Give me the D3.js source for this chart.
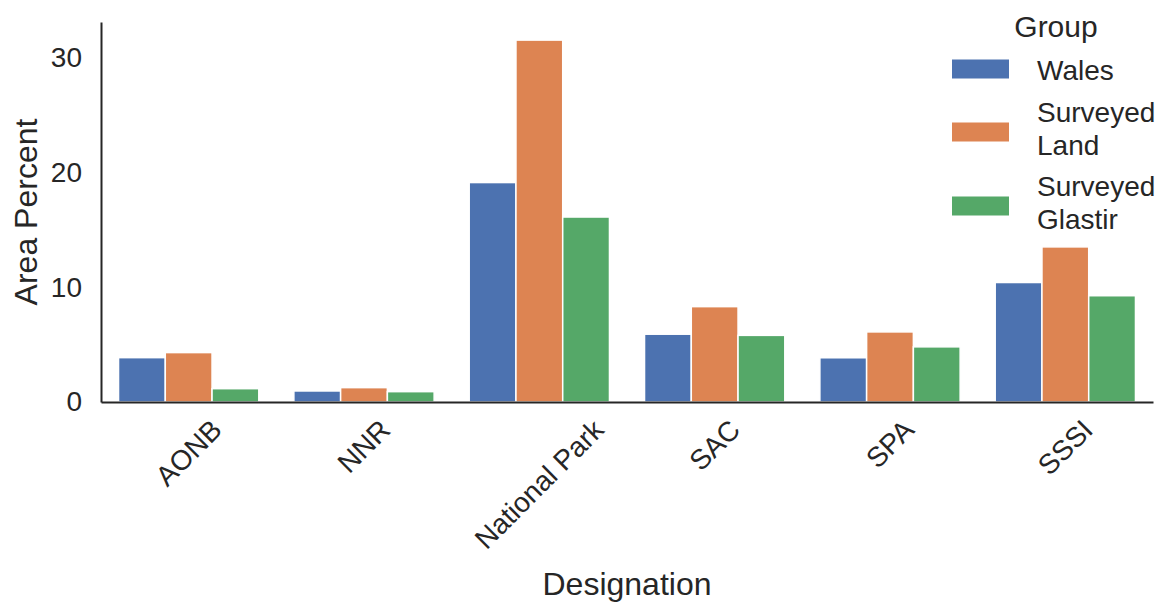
<!DOCTYPE html>
<html>
<head>
<meta charset="utf-8">
<script src="https://cdn.jsdelivr.net/npm/d3@7"></script>
<style>
  html, body { margin: 0; padding: 0; background: #fff; }
  text { font-family: Arial, "Liberation Sans", sans-serif; fill: #262626; }
</style>
</head>
<body>
<svg id="chart" width="1165" height="602"></svg>
<script>
const categories = ["AONB", "NNR", "National Park", "SAC", "SPA", "SSSI"];
const groups = ["Wales", "Surveyed Land", "Surveyed Glastir"];
const groupLabelLines = [["Wales"], ["Surveyed", "Land"], ["Surveyed", "Glastir"]];
const walesValues = [3.86, 0.96, 19.1, 5.9, 3.85, 10.4];
const surveyedLandValues = [4.3, 1.25, 31.5, 8.3, 6.1, 13.5];
const surveyedGlastirValues = [1.16, 0.9, 16.1, 5.8, 4.8, 9.25];
const yTicks = [0, 10, 20, 30];
const colors = ["#4C72B0", "#DD8452", "#55A868"];

const seriesValues = [walesValues, surveyedLandValues, surveyedGlastirValues];

const svg = d3.select("#chart");
const mLeft = 101, mRight = 1153, mTop = 22, mBottom = 402;

const x = d3.scaleBand().domain(categories).range([mLeft, mRight]).paddingInner(0).paddingOuter(0);
const yMax = d3.max(seriesValues.flat()) * 1.05;
const y = d3.scaleLinear().domain([0, yMax]).range([mBottom, mTop]);
const xInner = d3.scaleBand().domain(groups).range([x.bandwidth() * 0.1, x.bandwidth() * 0.9]).padding(0);

// bars
groups.forEach((g, gi) => {
  svg.append("g").selectAll("rect")
    .data(categories.map((c, ci) => ({ c, v: seriesValues[gi][ci] })))
    .join("rect")
    .attr("x", d => x(d.c) + xInner(g))
    .attr("y", d => y(d.v))
    .attr("width", xInner.bandwidth())
    .attr("height", d => y(0) - y(d.v))
    .attr("fill", colors[gi])
    .attr("stroke", "#fff")
    .attr("stroke-width", 1.5);
});

// y axis
const yAxis = svg.append("g").attr("transform", `translate(${mLeft},0)`)
  .call(d3.axisLeft(y).tickValues(yTicks).tickSize(0).tickPadding(19).tickFormat(d3.format("d")));
yAxis.select(".domain").attr("stroke", "#262626").attr("stroke-width", 2);
yAxis.selectAll("text").attr("font-size", 28).attr("fill", "#262626")
  .attr("font-family", "Arial, 'Liberation Sans', sans-serif");

// x axis
const xAxis = svg.append("g").attr("transform", `translate(0,${mBottom})`)
  .call(d3.axisBottom(x).tickSize(0).tickFormat(""));
xAxis.select(".domain").attr("stroke", "#262626").attr("stroke-width", 2);

// rotated x tick labels, bbox centered on tick
const labelTop = mBottom + 14;
categories.forEach(c => {
  const t = svg.append("text")
    .attr("font-size", 28)
    .attr("text-anchor", "middle")
    .attr("dominant-baseline", "central")
    .text(c);
  const w = t.node().getComputedTextLength();
  const h = 28 * 0.9;
  const cy = labelTop + (w + h) / (2 * Math.SQRT2);
  const cx = x(c) + x.bandwidth() / 2;
  t.attr("transform", `translate(${cx},${cy}) rotate(-45)`);
});

// axis titles
svg.append("text")
  .attr("x", (mLeft + mRight) / 2).attr("y", 595)
  .attr("text-anchor", "middle").attr("font-size", 32)
  .text("Designation");
svg.append("text")
  .attr("transform", `translate(37,${(mTop + mBottom) / 2}) rotate(-90)`)
  .attr("text-anchor", "middle").attr("font-size", 32)
  .text("Area Percent");

// legend
const legend = svg.append("g");
legend.append("text").attr("x", 1056).attr("y", 37).attr("text-anchor", "middle")
  .attr("font-size", 30).text("Group");
const patchCenters = [69, 132, 206];
groups.forEach((g, gi) => {
  legend.append("rect").attr("x", 952).attr("y", patchCenters[gi] - 9.5)
    .attr("width", 57).attr("height", 19).attr("fill", colors[gi]);
  const lines = groupLabelLines[gi];
  const t = legend.append("text").attr("x", 1037).attr("font-size", 28);
  const firstBaseline = lines.length === 1 ? patchCenters[gi] + 11 : patchCenters[gi] - 10;
  lines.forEach((ln, li) => {
    t.append("tspan").attr("x", 1037).attr("y", firstBaseline + li * 33).text(ln);
  });
});
</script>
</body>
</html>
